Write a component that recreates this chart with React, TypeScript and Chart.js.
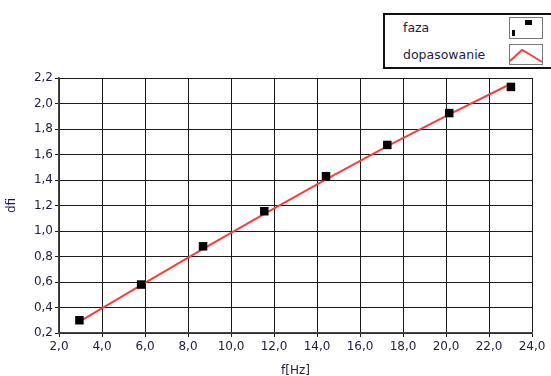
import React, { useEffect, useRef } from "react";
import { Chart, registerables } from "chart.js";

Chart.register(...registerables);

const fazaX = [2.95, 5.82, 8.7, 11.55, 14.42, 17.27, 20.15, 23.02];
const fazaY = [0.3, 0.58, 0.88, 1.155, 1.43, 1.675, 1.925, 2.13];
const fitX = [2.95, 5.82, 8.7, 11.55, 14.42, 17.27, 20.15, 23.02];
const fitY = [0.29, 0.575, 0.86, 1.135, 1.405, 1.665, 1.915, 2.155];
const xTicks = [2, 4, 6, 8, 10, 12, 14, 16, 18, 20, 22, 24];
const yTicks = [0.2, 0.4, 0.6, 0.8, 1.0, 1.2, 1.4, 1.6, 1.8, 2.0, 2.2];

const fmt = (v: number) => v.toFixed(1).replace(".", ",");
const FONT = "'DejaVu Sans', sans-serif";
const TXT = "#1c1c3c";

export default function App() {
  const ref = useRef<HTMLCanvasElement | null>(null);
  useEffect(() => {
    document.body.style.margin = "0";
    const chart = new Chart(ref.current!, {
      type: "scatter",
      data: {
        datasets: [
          {
            label: "dopasowanie",
            type: "line",
            data: fitX.map((x, i) => ({ x, y: fitY[i] })),
            borderColor: "#ff3b3b",
            borderWidth: 2,
            pointRadius: 0,
            tension: 0,
            order: 2,
          },
          {
            label: "faza",
            data: fazaX.map((x, i) => ({ x, y: fazaY[i] })),
            backgroundColor: "#000",
            borderColor: "#000",
            pointStyle: "rect",
            pointRadius: 6,
            borderWidth: 0,
            order: 1,
          },
        ],
      },
      options: {
        animation: false,
        responsive: false,
        layout: { padding: { top: 78, right: 19, left: 0, bottom: 0 } },
        plugins: { legend: { display: false }, tooltip: { enabled: false } },
        scales: {
          x: {
            type: "linear",
            min: 2,
            max: 24,
            afterBuildTicks: (s: any) => {
              s.ticks = xTicks.map((v) => ({ value: v }));
            },
            afterFit: (s: any) => {
              s.height = 43;
            },
            ticks: {
              callback: (v: any) => fmt(Number(v)),
              font: { family: FONT, size: 12 },
              color: TXT,
              padding: 3,
              maxRotation: 0,
            },
            grid: { color: "#1a1a1a", lineWidth: 1, tickLength: 4 },
            border: { color: "#444", width: 1.5 },
            title: {
              display: true,
              text: "f[Hz]",
              font: { family: FONT, size: 12 },
              color: TXT,
              padding: { top: 0, bottom: -2 },
            },
          },
          y: {
            type: "linear",
            min: 0.2,
            max: 2.2,
            afterBuildTicks: (s: any) => {
              s.ticks = yTicks.map((v) => ({ value: v }));
            },
            afterFit: (s: any) => {
              s.width = 59;
            },
            ticks: {
              callback: (v: any) => fmt(Number(v)),
              font: { family: FONT, size: 12 },
              color: TXT,
              padding: 2,
            },
            grid: { color: "#1a1a1a", lineWidth: 1, tickLength: 4 },
            border: { color: "#444", width: 1.5 },
            title: {
              display: true,
              text: "dfi",
              font: { family: FONT, size: 12 },
              color: TXT,
              padding: { top: 5, bottom: 0 },
            },
          },
        },
      },
    } as any);
    return () => chart.destroy();
  }, []);

  return (
    <div style={{ position: "relative", width: 551, height: 376, background: "#fff", overflow: "hidden" }}>
      <canvas ref={ref} width={551} height={376} style={{ position: "absolute", left: 0, top: 0 }} />
      <div
        style={{
          position: "absolute",
          left: 383,
          top: 13,
          width: 175,
          height: 52,
          border: "2px solid #111",
          background: "#fff",
          fontFamily: FONT,
          fontSize: 12.5,
          color: TXT,
        }}
      >
        <div style={{ position: "absolute", left: 18, top: 5 }}>faza</div>
        <div style={{ position: "absolute", left: 18, top: 32 }}>dopasowanie</div>
        <svg style={{ position: "absolute", left: 124, top: 2 }} width={36} height={48}>
          <rect x={0.5} y={0.5} width={33} height={21} fill="#fff" stroke="#777" />
          <rect x={16} y={3} width={7} height={5} fill="#000" />
          <rect x={3} y={13} width={3} height={6} fill="#000" />
          <rect x={0.5} y={27.5} width={33} height={20} fill="#fff" stroke="#777" />
          <polyline points="1,44 13,33 17,35 33,45" fill="none" stroke="#ff3b3b" strokeWidth={2} />
        </svg>
      </div>
    </div>
  );
}
